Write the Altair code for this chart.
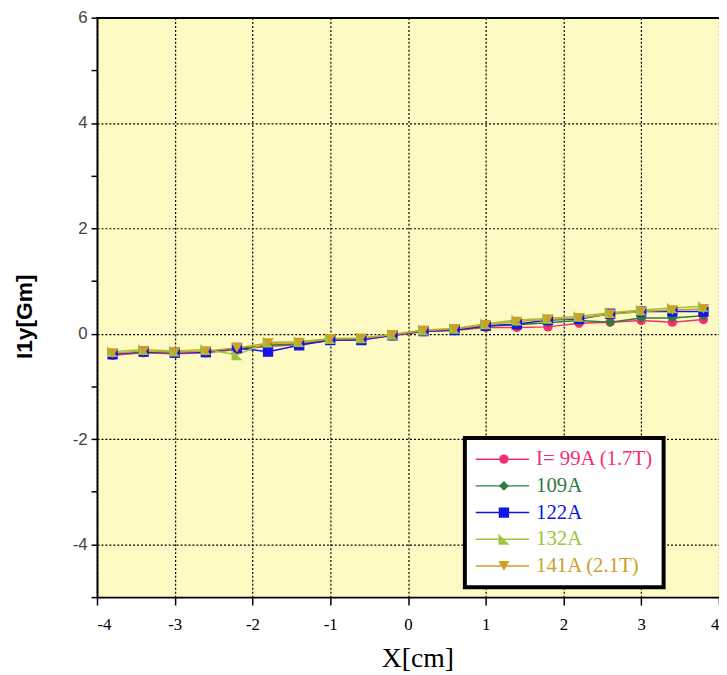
import altair as alt
import pandas as pd

# ---- data ----
X_CM = [-3.8, -3.4, -3.0, -2.6, -2.2, -1.8, -1.4, -1.0, -0.6, -0.2,
        0.2, 0.6, 1.0, 1.4, 1.8, 2.2, 2.6, 3.0, 3.4, 3.8]

SERIES = ["I= 99A (1.7T)", "109A", "122A", "132A", "141A (2.1T)"]

I99 = [-0.41, -0.36, -0.38, -0.36, -0.30, -0.24, -0.21, -0.13, -0.11, -0.04,
       0.04, 0.06, 0.12, 0.12, 0.13, 0.20, 0.22, 0.25, 0.22, 0.27]
I109 = [-0.38, -0.35, -0.36, -0.34, -0.29, -0.22, -0.19, -0.12, -0.10, -0.03,
        0.05, 0.07, 0.14, 0.17, 0.21, 0.25, 0.22, 0.30, 0.30, 0.34]
I122 = [-0.39, -0.34, -0.36, -0.35, -0.27, -0.34, -0.22, -0.12, -0.12, -0.03,
        0.05, 0.07, 0.15, 0.18, 0.26, 0.28, 0.38, 0.42, 0.42, 0.42]
I132 = [-0.34, -0.30, -0.33, -0.30, -0.40, -0.16, -0.15, -0.09, -0.08, -0.01,
        0.07, 0.10, 0.19, 0.26, 0.29, 0.33, 0.40, 0.45, 0.49, 0.52]
I141 = [-0.37, -0.33, -0.35, -0.33, -0.27, -0.18, -0.17, -0.10, -0.09, -0.02,
        0.06, 0.09, 0.17, 0.23, 0.27, 0.30, 0.37, 0.42, 0.45, 0.47]

VALUES = [I99, I109, I122, I132, I141]

COLORS = ["#F2306F", "#2E7B3C", "#1414E6", "#9CC43C", "#C9A227"]
SHAPES = ["circle", "diamond", "square", "M-1,-1L1,1L-1,1Z", "triangle-down"]
SIZES = [90, 130, 330, 200, 250]

X_TICKS = [-4, -3, -2, -1, 0, 1, 2, 3, 4]
Y_TICKS = [v / 2 for v in range(-10, 13)]  # -5 .. 6 step 0.5
X_DOMAIN = [-4, 4]
Y_DOMAIN = [-5, 6]

rows = []
for name, vals in zip(SERIES, VALUES):
    for x, y in zip(X_CM, vals):
        rows.append({"x": x, "y": y, "series": name})
df = pd.DataFrame(rows)

label_expr = "'black'"
for name, col in reversed(list(zip(SERIES, COLORS))):
    label_expr = f"datum.label == '{name}' ? '{col}' : ({label_expr})"

x_enc = alt.X("x:Q", scale=alt.Scale(domain=X_DOMAIN, nice=False),
              axis=alt.Axis(values=X_TICKS, title="X[cm]",
                            labelExpr="'' + datum.value",
                            grid=True, gridColor="black", gridDash=[2, 2], gridWidth=1.2,
                            domainColor="black", domainWidth=2,
                            tickColor="black", tickSize=8, tickWidth=1.5,
                            labelFont="Liberation Serif", labelFontSize=17, labelColor="black",
                            labelPadding=12, titleFont="Liberation Serif", titleFontSize=28,
                            titleFontWeight="normal", titleColor="black",
                            titleX=324, titleY=70, titleAlign="center",
                            titleBaseline="alphabetic"))

y_enc = alt.Y("y:Q", scale=alt.Scale(domain=Y_DOMAIN, nice=False, zero=False),
              axis=alt.Axis(values=Y_TICKS, title="I1y[Gm]",
                            labelExpr="datum.value % 2 === 0 ? '' + datum.value : ''",
                            grid=True, gridColor="black", gridDash=[2, 2], gridWidth=1.2,
                            gridOpacity={"condition": {"test": "datum.value % 2 === 0", "value": 1}, "value": 0},
                            domainColor="black", domainWidth=2,
                            tickColor="black", tickSize=6, tickWidth=1.5,
                            labelFont="Liberation Sans", labelFontSize=17, labelColor="#444444",
                            labelPadding=4,
                            titleFont="Liberation Sans", titleFontSize=23, titleFontWeight="bold",
                            titleColor="black", titleX=-66, titleY=302, titleAngle=270,
                            titleAlign="center", titleBaseline="alphabetic"))

lines = alt.Chart(df).mark_line(strokeWidth=1.5).encode(
    x=x_enc, y=y_enc,
    stroke=alt.Stroke("series:N", scale=alt.Scale(range=COLORS), sort=SERIES,
                      legend=alt.Legend(orient="none", legendX=372, legendY=425,
                                        symbolType="stroke", symbolSize=2916,
                                        symbolStrokeWidth=1.5, clipHeight=23, rowPadding=4,
                                        padding=10, strokeColor="black", fillColor="white",
                                        labelFont="Liberation Serif", labelFontSize=21,
                                        labelColor={"expr": label_expr}, labelOffset=6,
                                        title=None)),
    detail="series:N",
)

points = alt.Chart(df).mark_point(filled=True, opacity=1, strokeWidth=0).encode(
    x="x:Q", y="y:Q",
    fill=alt.Fill("series:N", scale=alt.Scale(domain=SERIES, range=COLORS), sort=SERIES,
                  legend=alt.Legend(orient="none", legendX=391, legendY=425,
                                    clipHeight=23, rowPadding=4, padding=10,
                                    strokeColor="transparent", fillColor="transparent",
                                    labelExpr="''", labelFontSize=21, title=None,
                                    symbolOpacity=1, symbolStrokeWidth=0)),
    shape=alt.Shape("series:N", scale=alt.Scale(domain=SERIES, range=SHAPES), sort=SERIES),
    size=alt.Size("series:N", scale=alt.Scale(domain=SERIES, range=SIZES), sort=SERIES),
)

top_border = alt.Chart(df).mark_rule(color="black", strokeWidth=1.5).encode(
    y=alt.datum(Y_DOMAIN[1])
)

chart = alt.layer(lines, points, top_border).properties(
    width=629, height=586,
    autosize=alt.AutoSizeParams(type="none"),
    padding={"left": 90, "top": 6, "right": 0, "bottom": 75},
).configure_view(
    fill="#FDFBC3", stroke=None
).configure_legend(
    strokeWidth=4
)

chart.save("out.html", embed_options={"renderer": "svg", "actions": False})
